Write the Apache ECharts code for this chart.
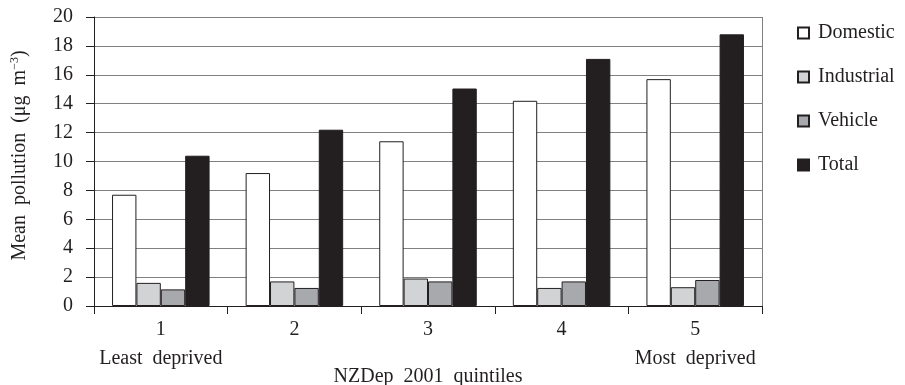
<!DOCTYPE html>
<html><head><meta charset="utf-8">
<script src="https://cdn.jsdelivr.net/npm/echarts@6/dist/echarts.min.js"></script>
<style>html,body{margin:0;padding:0;background:#fff}#c{width:905px;height:385px}</style>
</head><body><div id="c"></div>
<script>
const categories = ['1','2','3','4','5'];
const subLabels = ['Least  deprived','','','','Most  deprived'];
const seriesNames = ['Domestic','Industrial','Vehicle','Total'];
const domestic = [7.7, 9.2, 11.4, 14.2, 15.7];
const industrial = [1.6, 1.7, 1.9, 1.25, 1.3];
const vehicle = [1.15, 1.25, 1.7, 1.7, 1.8];
const total = [10.4, 12.2, 15.05, 17.1, 18.8];
const yTicks = [0,2,4,6,8,10,12,14,16,18,20];

const colors = ['#ffffff','#d2d3d5','#a7a9ac','#231f20'];
const values = [domestic, industrial, vehicle, total];
const FONT = 'Liberation Serif';
const FS = 20;
const chart = echarts.init(document.getElementById('c'));
chart.setOption({
  animation:false,
  textStyle:{fontFamily:FONT},
  grid:{left:94,right:143,top:17,bottom:79,containLabel:false,outerBoundsMode:'none'},
  legend:{
    orient:'vertical', left:792, top:18, itemWidth:11, itemHeight:11, itemGap:24,
    icon:'rect',
    textStyle:{fontFamily:FONT,fontSize:FS,color:'#231f20',padding:[0,0,0,4]},
    data:seriesNames
  },
  xAxis:{
    type:'category', data:categories,
    axisLine:{lineStyle:{color:'#231f20',width:1}},
    axisTick:{show:true,length:8,lineStyle:{color:'#231f20'}},
    axisLabel:{interval:0,fontFamily:FONT,fontSize:FS,color:'#231f20',margin:9,lineHeight:29,
      formatter:(v,i)=> subLabels[i] ? v+'\n'+subLabels[i] : v},
    name:'NZDep  2001  quintiles', nameLocation:'middle', nameGap:61, nameMoveOverlap:false,
    nameTextStyle:{fontFamily:FONT,fontSize:FS,color:'#231f20'}
  },
  yAxis:{
    type:'value', min:yTicks[0], max:yTicks[yTicks.length-1], interval:yTicks[1]-yTicks[0],
    axisLine:{show:true,lineStyle:{color:'#231f20'}},
    axisTick:{show:true,length:8,lineStyle:{color:'#231f20'}},
    axisLabel:{fontFamily:FONT,fontSize:FS,color:'#231f20',margin:21},
    splitLine:{lineStyle:{color:'#808080',width:1}},
    name:'{a|Mean  pollution  (μg  m}{s|−3}{a|)}', nameLocation:'middle', nameGap:63, nameMoveOverlap:false,
    nameTextStyle:{fontFamily:FONT,fontSize:FS,color:'#231f20',padding:[0,0,0,12],
      rich:{a:{fontFamily:FONT,fontSize:FS,color:'#231f20'},
            s:{fontFamily:FONT,fontSize:12,color:'#231f20',padding:[0,0,10,0]}}}
  },
  series: seriesNames.map((n,i)=>({
    name:n, type:'bar', data:values[i],
    barGap:'0%', barCategoryGap:'27%',
    itemStyle:{color:colors[i],borderColor:'#231f20',borderWidth:1}
  }))
});
chart.setOption({graphic:[{type:'line',shape:{x1:762.5,y1:17,x2:762.5,y2:306},style:{stroke:'#808080',lineWidth:1},silent:true}]});
</script></body></html>
